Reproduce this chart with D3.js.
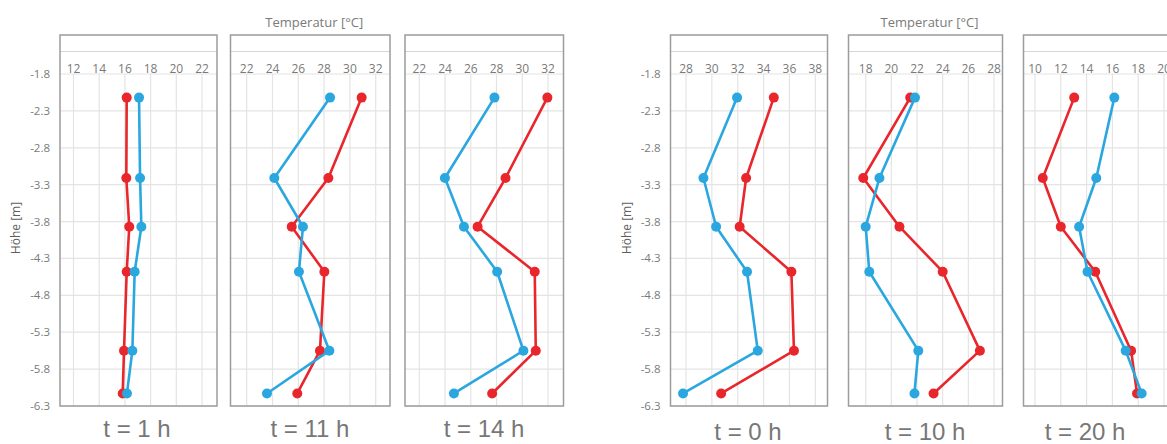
<!DOCTYPE html>
<html>
<head>
<meta charset="utf-8">
<script src="https://cdn.jsdelivr.net/npm/d3@7"></script>
<style>
  html, body { margin: 0; padding: 0; background: #fff; overflow: hidden; }
  svg { display: block; }
</style>
</head>
<body>
<script>
// Sensor depths (m) shared by every profile
const depths = [-2.12, -3.21, -3.87, -4.48, -5.55, -6.13];

// Depth axis ticks
const depthTicks = [-1.8, -2.3, -2.8, -3.3, -3.8, -4.3, -4.8, -5.3, -5.8, -6.3];

// Time stamp under each profile panel
const panelLabels = ["t = 1 h", "t = 11 h", "t = 14 h", "t = 0 h", "t = 10 h", "t = 20 h"];

// Temperature ticks of each panel (°C)
const tempTicks = [
  [12, 14, 16, 18, 20, 22],
  [22, 24, 26, 28, 30, 32],
  [22, 24, 26, 28, 30, 32],
  [28, 30, 32, 34, 36, 38],
  [18, 20, 22, 24, 26, 28],
  [10, 12, 14, 16, 18, 20]
];

// Red profile temperatures per panel (°C), top to bottom
const redProfiles = [
  [16.14, 16.11, 16.34, 16.14, 15.93, 15.83],
  [30.91, 28.33, 25.49, 28.02, 27.68, 25.92],
  [31.95, 28.70, 26.53, 30.97, 31.05, 27.66],
  [34.79, 32.65, 32.15, 36.15, 36.35, 30.72],
  [21.47, 17.81, 20.63, 24.00, 26.90, 23.29],
  [13.04, 10.60, 12.00, 14.67, 17.45, 17.91]
];

// Blue profile temperatures per panel (°C), top to bottom
const blueProfiles = [
  [17.10, 17.18, 17.28, 16.76, 16.58, 16.16],
  [28.46, 24.14, 26.36, 26.05, 28.41, 23.57],
  [27.84, 23.99, 25.47, 28.05, 30.09, 24.69],
  [31.95, 29.35, 30.33, 32.72, 33.55, 27.77],
  [21.84, 19.07, 18.00, 18.28, 22.10, 21.80],
  [16.15, 14.75, 13.42, 14.07, 17.03, 18.27]
];

const axisTitle = "Temperatur [°C]";
const depthTitle = "Höhe [m]";

// ---- layout ----
const W = 1167, H = 444;
const RED = "#e8262b", BLUE = "#2aa7df";
const TEXT = "#7a7a7a";

const frameTop = 35, frameBottom = 406, bandLine = 51.5;
// frame box, pixel span of first..last temperature tick, label centre
const panels = [
  { x: 60,    w: 157,   t0: 73.5,  t1: 202,   lx: 137,  ly: 437, depthAxis: true },
  { x: 230.5, w: 159.5, t0: 246.7, t1: 375.7, lx: 310,  ly: 437, title: true },
  { x: 405,   w: 158.5, t0: 419.3, t1: 548,   lx: 484,  ly: 437 },
  { x: 670.5, w: 157,   t0: 686,   t1: 815.3, lx: 748,  ly: 440, depthAxis: true },
  { x: 848.5, w: 154,   t0: 865.7, t1: 994,   lx: 925,  ly: 440, title: true },
  { x: 1023.5,w: 157,   t0: 1035,  t1: 1164,  lx: 1085, ly: 440 }
];

const svg = d3.select("body").append("svg")
  .attr("width", W).attr("height", H);

const y = d3.scaleLinear().domain([-1.8, -6.3]).range([74, frameBottom]);

panels.forEach((p, i) => {
  const ticks = tempTicks[i];
  const x = d3.scaleLinear()
    .domain([ticks[0], ticks[ticks.length - 1]])
    .range([p.t0, p.t1]);

  const g = svg.append("g");

  // horizontal gridlines
  g.append("g").selectAll("line")
    .data(depthTicks)
    .join("line")
    .attr("x1", p.x).attr("x2", p.x + p.w)
    .attr("y1", d => y(d)).attr("y2", d => y(d))
    .attr("stroke", "#e4e4e4").attr("stroke-width", 1.2);

  // vertical gridlines
  g.append("g").selectAll("line")
    .data(ticks)
    .join("line")
    .attr("x1", d => x(d)).attr("x2", d => x(d))
    .attr("y1", y(-1.8)).attr("y2", frameBottom)
    .attr("stroke", "#e4e4e4").attr("stroke-width", 1.2);

  // band line under the frame top
  g.append("line")
    .attr("x1", p.x).attr("x2", p.x + p.w)
    .attr("y1", bandLine).attr("y2", bandLine)
    .attr("stroke", "#d6d6d6").attr("stroke-width", 1.2);

  // temperature tick labels
  g.append("g").selectAll("text")
    .data(ticks)
    .join("text")
    .attr("x", d => x(d)).attr("y", 73)
    .attr("text-anchor", "middle")
    .attr("font-family", "'Open Sans', sans-serif")
    .attr("font-size", 12)
    .attr("fill", TEXT)
    .text(d => d);

  // frame
  g.append("rect")
    .attr("x", p.x).attr("y", frameTop)
    .attr("width", p.w).attr("height", frameBottom - frameTop)
    .attr("fill", "none").attr("stroke", "#9c9c9c").attr("stroke-width", 1.5);

  // depth axis labels
  if (p.depthAxis) {
    g.append("g").selectAll("text")
      .data(depthTicks)
      .join("text")
      .attr("x", p.x - 10).attr("y", d => y(d) + 4)
      .attr("text-anchor", "end")
      .attr("font-family", "'Open Sans', sans-serif")
      .attr("font-size", 11.5)
      .attr("fill", TEXT)
      .text(d => d.toFixed(1));
    g.append("text")
      .attr("transform", `translate(${p.x - 40},228) rotate(-90)`)
      .attr("text-anchor", "middle")
      .attr("font-family", "'Open Sans', sans-serif")
      .attr("font-size", 12)
      .attr("fill", "#5e5e5e")
      .text(depthTitle);
  }

  if (p.title) {
    g.append("text")
      .attr("x", p.x + p.w / 2 + 4).attr("y", 27)
      .attr("text-anchor", "middle")
      .attr("font-family", "'Open Sans', sans-serif")
      .attr("font-size", 13)
      .attr("fill", TEXT)
      .text(axisTitle);
  }

  // profiles: red first, blue on top
  const line = d3.line().x(d => x(d[0])).y(d => y(d[1]));
  [[redProfiles[i], RED], [blueProfiles[i], BLUE]].forEach(([vals, col]) => {
    const pts = vals.map((v, k) => [v, depths[k]]);
    g.append("path")
      .attr("d", line(pts))
      .attr("fill", "none").attr("stroke", col)
      .attr("stroke-width", 2.6).attr("stroke-linejoin", "round");
    g.append("g").selectAll("circle")
      .data(pts)
      .join("circle")
      .attr("cx", d => x(d[0])).attr("cy", d => y(d[1]))
      .attr("r", 5).attr("fill", col);
  });

  // time stamp
  g.append("text")
    .attr("x", p.lx).attr("y", p.ly)
    .attr("text-anchor", "middle")
    .attr("font-family", "'Liberation Sans', Arial, sans-serif")
    .attr("font-size", 24)
    .attr("fill", "#777")
    .text(panelLabels[i]);
});
</script>
</body>
</html>
